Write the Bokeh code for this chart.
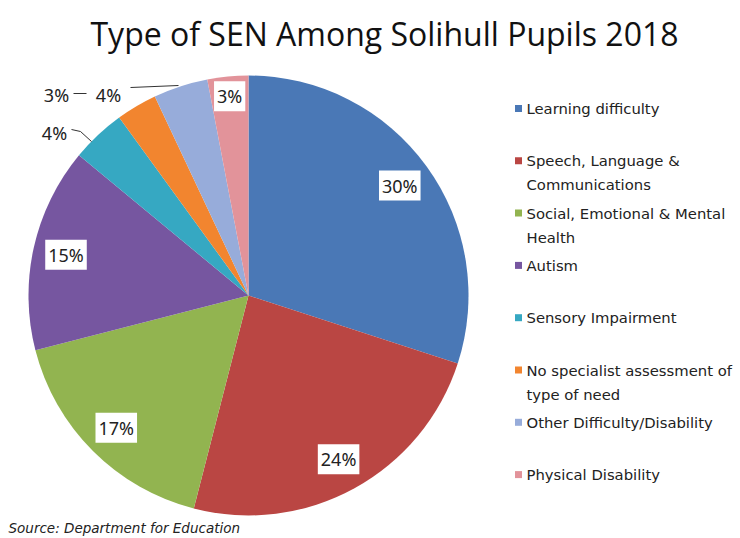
import math
from bokeh.plotting import figure
from bokeh.models import Range1d, ColumnDataSource
from bokeh.core.properties import value
from bokeh.embed import file_html
from bokeh.resources import INLINE

# ---- data ----
categories = [
    "Learning difficulty",
    "Speech, Language & Communications",
    "Social, Emotional & Mental Health",
    "Autism",
    "Sensory Impairment",
    "No specialist assessment of type of need",
    "Other Difficulty/Disability",
    "Physical Disability",
]
legend_lines = [
    ["Learning difficulty"],
    ["Speech, Language &", "Communications"],
    ["Social, Emotional & Mental", "Health"],
    ["Autism"],
    ["Sensory Impairment"],
    ["No specialist assessment of", "type of need"],
    ["Other Difficulty/Disability"],
    ["Physical Disability"],
]
percent = [30, 24, 17, 15, 4, 3, 4, 3]
colors = ["#4A78B6", "#BA4643", "#92B450", "#7656A0", "#36A8C2", "#F2852F", "#97ACDA", "#E2939A"]

title = "Type of SEN Among Solihull Pupils 2018"
source_note = "Source: Department for Education"

# ---- layout ----
W, H = 740, 538
H_PX = 538  # reference coordinate height


def Y(y_px):
    return H_PX - y_px


p = figure(width=W, height=H, output_backend="svg", toolbar_location=None,
           x_range=Range1d(0, W), y_range=Range1d(Y(H), Y(0)),
           min_border=0, outline_line_color=None)
p.axis.visible = False
p.grid.visible = False
p.background_fill_color = "white"
p.border_fill_color = "white"

cx, cy, R = 248, Y(295), 220

total = float(sum(percent))
starts, ends, mids = [], [], []
cum = 0.0
for v in percent:
    a0 = math.pi / 2 - 2 * math.pi * cum / total
    cum += v
    a1 = math.pi / 2 - 2 * math.pi * cum / total
    starts.append(a0)
    ends.append(a1)
    mids.append((a0 + a1) / 2)

src = ColumnDataSource(dict(start=starts, end=ends, color=colors, cat=categories))
p.wedge(x=cx, y=cy, radius=R, start_angle="start", end_angle="end",
        direction="clock", fill_color="color", line_color=None, source=src)

# ---- data labels ----
lab_x, lab_y, lab_t = [], [], []
outside = {4: (54, 132), 5: (56, 94), 6: (108, 94)}
for i, v in enumerate(percent):
    if i in outside:
        x, y = outside[i]
        lab_x.append(x); lab_y.append(Y(y))
    else:
        rf = 0.91 if i == 7 else 0.85
        lab_x.append(cx + rf * R * math.cos(mids[i]))
        lab_y.append(cy + rf * R * math.sin(mids[i]))
    lab_t.append(f"{v}%")

# leader lines for outside labels
p.line(x=[71, 80, 91], y=[Y(129), Y(131), Y(141)], line_color="#333333", line_width=1)
p.line(x=[130, 178], y=[Y(87), Y(85)], line_color="#333333", line_width=1)
p.line(x=[73, 86], y=[Y(93), Y(93)], line_color="#333333", line_width=1)

lsrc = ColumnDataSource(dict(x=lab_x, y=lab_y, t=lab_t))
p.text(x="x", y="y", text="t", source=lsrc,
       text_align="center", text_baseline="middle",
       text_font=value("Noto Sans"), text_font_size="18px", text_color="#222222",
       background_fill_color="white", background_fill_alpha=1.0, padding=3)

# ---- legend ----
leg_x0, leg_y0, leg_step, line_gap = 518, 108, 52.3, 24
sq_x, sq_y, tx, ty, tt = [], [], [], [], []
for i, lines in enumerate(legend_lines):
    y0 = leg_y0 + i * leg_step
    sq_x.append(leg_x0); sq_y.append(Y(y0))
    for j, ln in enumerate(lines):
        tx.append(leg_x0 + 8); ty.append(Y(y0 + j * line_gap)); tt.append(ln)
p.scatter(x=sq_x, y=sq_y, marker="square", size=7, fill_color=colors, line_color=None)
p.text(x=tx, y=ty, text=tt, text_font=value("DejaVu Sans"), text_font_size="14.8px",
       text_baseline="middle", text_align="left", text_color="#222222")

# ---- title & source ----
p.text(x=[384], y=[Y(33)], text=[title], text_font=value("Open Sans"), text_font_size="32px",
       text_baseline="middle", text_align="center", text_color="#111111")
p.text(x=[8], y=[Y(527)], text=[source_note], text_font=value("DejaVu Sans"), text_font_size="13.5px",
       text_font_style="italic", text_baseline="middle", text_align="left", text_color="#222222")

open("out.html", "w").write(file_html(p, INLINE))
